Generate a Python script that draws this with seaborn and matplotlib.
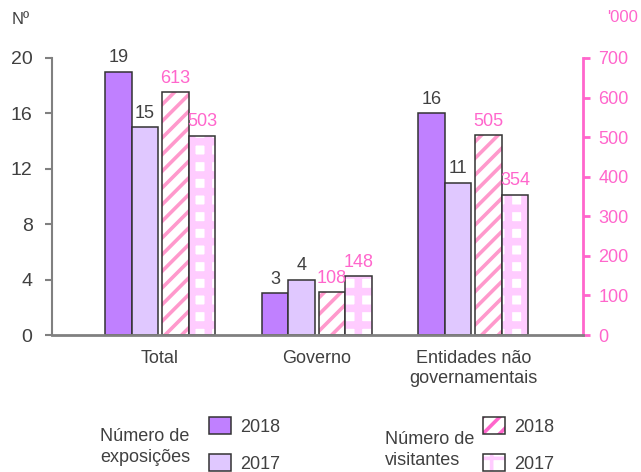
import matplotlib
matplotlib.use("Agg")
import matplotlib.pyplot as plt
import matplotlib.colors as mcolors
from matplotlib.patches import Patch
import seaborn as sns
import pandas as pd

categories = ["Total", "Governo", "Entidades não\ngovernamentais"]
exp_2018 = [19, 3, 16]
exp_2017 = [15, 4, 11]
vis_2018 = [613, 108, 505]
vis_2017 = [503, 148, 354]
levels = ["exp2018", "exp2017", "vis2018", "vis2017"]

sns.set_theme(style="white")
plt.rcParams["font.family"] = ["Liberation Sans", "DejaVu Sans"]
plt.rcParams["hatch.linewidth"] = 2.6

GREY = "#808080"
TXT = "#404040"
PINK = "#FF66CC"
PURPLE = "#C080FF"
LAV = "#E0C8FF"
STRIPE = "#FF99CC"
CHECK = "#FFCCFF"
EDGE = "#333333"


def set_hatch_style(p, col, lw):
    c = mcolors.to_rgba(col)
    if hasattr(p, "set_hatchcolor"):
        p.set_hatchcolor(c)
    p._hatch_color = c
    if hasattr(p, "set_hatch_linewidth"):
        p.set_hatch_linewidth(lw)
    p._hatch_linewidth = lw


fig = plt.figure(figsize=(6.41, 4.72), dpi=100)
ax1 = fig.add_axes([52/641, 1-335/472, (583-52)/641, (335-58)/472])
ax2 = ax1.twinx()


def draw(ax, values, level, face, hatch=None, hcol=None, hlw=2.6):
    df = pd.DataFrame({"cat": categories, "val": values, "lvl": level})
    n0 = len(ax.patches)
    sns.barplot(data=df, x="cat", y="val", hue="lvl", hue_order=levels,
                order=categories, palette={l: face for l in levels},
                width=0.68, dodge=True, ax=ax, legend=False, edgecolor=EDGE,
                linewidth=1.1, saturation=1)
    new = ax.patches[n0:]
    for p in new:
        shift = -0.012 if level.startswith("exp") else 0.012
        p.set_x(p.get_x() + shift)
        if hatch:
            p.set_hatch(hatch)
            set_hatch_style(p, hcol, hlw)
    return new


ax1.set_zorder(2)
ax1.patch.set_visible(False)
b1 = draw(ax1, exp_2018, "exp2018", PURPLE)
b2 = draw(ax1, exp_2017, "exp2017", LAV)
b3 = draw(ax2, vis_2018, "vis2018", "white", "//", STRIPE, 2.6)
b4 = draw(ax2, vis_2017, "vis2017", "white", "+", CHECK, 5.5)


def label(ax, bars, vals, color):
    for p, v in zip(bars, vals):
        ax.annotate(str(v), (p.get_x() + p.get_width()/2, p.get_height()),
                    xytext=(0, 4), textcoords="offset points", ha="center",
                    va="bottom", fontsize=13, color=color)


label(ax1, b1, exp_2018, TXT)
label(ax1, b2, exp_2017, TXT)
label(ax2, b3, vis_2018, PINK)
label(ax2, b4, vis_2017, PINK)

ax1.set_xlim(-0.69, 2.70)
ax1.set_ylim(0, 20)
ax2.set_ylim(0, 700)
ax1.set_yticks([0, 4, 8, 12, 16, 20])
ax2.set_yticks(range(0, 701, 100))
ax1.set_xlabel("")
ax1.set_ylabel("")
ax2.set_xlabel("")
ax2.set_ylabel("")

for s in ["top", "right"]:
    ax1.spines[s].set_visible(False)
ax1.spines["left"].set_color(GREY)
ax1.spines["left"].set_linewidth(1.5)
ax1.spines["bottom"].set_color(GREY)
ax1.spines["bottom"].set_linewidth(2)
for s in ["top", "left", "bottom"]:
    ax2.spines[s].set_visible(False)
ax2.spines["right"].set_color(PINK)
ax2.spines["right"].set_linewidth(2)

ax1.tick_params(axis="y", left=True, length=5, width=1.5, color=GREY,
                labelsize=14, labelcolor=TXT, pad=9)
ax1.tick_params(axis="x", bottom=False, labelsize=13, labelcolor=TXT, pad=5)
ax2.tick_params(axis="y", right=True, length=5, width=2, color=PINK,
                labelsize=13, labelcolor=PINK, pad=6)

fig.text(12/641, 1-20/472, "Nº", fontsize=12, color=TXT, va="center", ha="left")
fig.text(607/641, 1-18/472, "'000", fontsize=12, color=PINK, va="center", ha="left")

fig.text(100/641, 1-447/472, "Número de\nexposições", fontsize=13, color=TXT,
         va="center", ha="left", linespacing=1.3)
fig.text(385/641, 1-450/472, "Número de\nvisitantes", fontsize=13, color=TXT,
         va="center", ha="left", linespacing=1.3)

h1 = [Patch(facecolor=PURPLE, edgecolor=EDGE, linewidth=1.1),
      Patch(facecolor=LAV, edgecolor=EDGE, linewidth=1.1)]
h3 = Patch(facecolor="white", edgecolor=EDGE, linewidth=1.1, hatch="//")
h4 = Patch(facecolor="white", edgecolor=EDGE, linewidth=1.1, hatch="+")
set_hatch_style(h3, PINK, 2.6)
set_hatch_style(h4, CHECK, 5.5)

leg_kw = dict(frameon=False, fontsize=13, handlelength=1.2, handleheight=1.1,
              handletextpad=0.5, labelspacing=1.0, borderpad=0, borderaxespad=0,
              loc="upper left", labelcolor=TXT)
l1 = fig.legend(h1, ["2018", "2017"], bbox_to_anchor=(209/641, 1-417/472), **leg_kw)
l2 = fig.legend([h3, h4], ["2018", "2017"], bbox_to_anchor=(483/641, 1-417/472), **leg_kw)

fig.savefig("out.png", dpi=100)
